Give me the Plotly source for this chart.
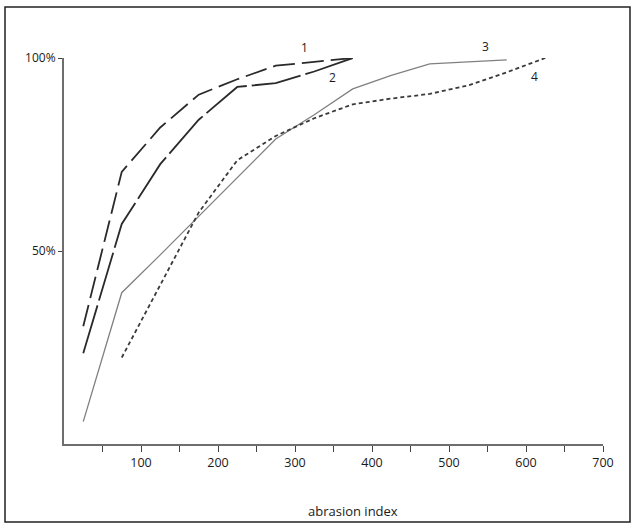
import plotly.graph_objects as go

# Data (abrasion index vs cumulative %)
curve1_x = [25, 75, 125, 175, 225, 275, 325, 375]
curve1_y = [30.5, 70.5, 82, 90.5, 94.5, 98, 99, 100]

curve2_x = [25, 75, 125, 175, 225, 275, 325, 375]
curve2_y = [23.5, 57, 72.5, 84, 92.5, 93.5, 96.5, 100]

curve3_x = [25, 75, 125, 175, 225, 275, 325, 375, 425, 475, 525, 575]
curve3_y = [5.8, 39.2, 49, 59, 69, 79, 85.3, 92, 95.5, 98.5, 99, 99.5]

curve4_x = [75, 125, 175, 225, 275, 325, 375, 425, 475, 525, 575, 625]
curve4_y = [22.4, 41.2, 60, 73.5, 79.8, 84.4, 88, 89.5, 90.7, 92.9, 96.3, 100]

curve_labels = ["1", "2", "3", "4"]
x_tick_vals = [50, 100, 150, 200, 250, 300, 350, 400, 450, 500, 550, 600, 650, 700]
x_tick_text = ["", "100", "", "200", "", "300", "", "400", "", "500", "", "600", "", "700"]
y_tick_vals = [50, 100]
y_tick_text = ["50%", "100%"]
x_title = "abrasion index"

FONT = "Open Sans, Liberation Sans, sans-serif"

# plot area geometry in pixels
L, R, T, B = 64, 603, 58, 444
PW, PH = R - L, B - T


def paper_y(py):
    return (B - py) / PH


fig = go.Figure()
fig.add_trace(go.Scatter(x=curve1_x, y=curve1_y, mode="lines",
                         line=dict(color="#2a2a2a", width=1.8, dash="22px,7px")))
fig.add_trace(go.Scatter(x=curve2_x, y=curve2_y, mode="lines",
                         line=dict(color="#2a2a2a", width=1.8, dash="50px,5px")))
fig.add_trace(go.Scatter(x=curve3_x, y=curve3_y, mode="lines",
                         line=dict(color="#808080", width=1.3)))
fig.add_trace(go.Scatter(x=curve4_x, y=curve4_y, mode="lines",
                         line=dict(color="#3a3a3a", width=1.8, dash="4px,3px")))

# curve labels (paper coordinates so labels above the 100% line still show)
label_pos = [(312, 102.8), (349, 95), (548, 103), (611, 95.2)]
for txt, (lx, ly) in zip(curve_labels, label_pos):
    fig.add_annotation(x=lx / 700, y=ly / 100, xref="paper", yref="paper", text=txt,
                       showarrow=False, xanchor="center", yanchor="middle",
                       font=dict(family=FONT, size=12, color="#1a1a1a"))

fig.add_annotation(x=(353 - L) / PW, y=paper_y(511), xref="paper", yref="paper",
                   text=x_title, showarrow=False, xanchor="center", yanchor="middle",
                   font=dict(family=FONT, size=13, color="#1a1a1a"))

# frame around the whole picture
fig.add_shape(type="rect", xref="paper", yref="paper",
              x0=(5 - L) / PW, x1=(630 - L) / PW,
              y0=paper_y(522), y1=paper_y(7),
              line=dict(color="#222", width=1.5))

fig.update_layout(
    width=635, height=528,
    margin=dict(l=L, r=635 - R, t=T, b=528 - B),
    paper_bgcolor="white", plot_bgcolor="white",
    showlegend=False,
    font=dict(family=FONT, color="#1a1a1a"),
    xaxis=dict(range=[0, 700], showgrid=False, zeroline=False,
               showline=True, linecolor="#6e6e6e", linewidth=2,
               tickmode="array", tickvals=x_tick_vals, ticktext=x_tick_text,
               ticks="outside", ticklen=6, tickwidth=1.2, tickcolor="#444",
               tickfont=dict(family=FONT, size=12.5, color="#1a1a1a")),
    yaxis=dict(range=[0, 100], showgrid=False, zeroline=False,
               showline=True, linecolor="#6e6e6e", linewidth=2,
               tickmode="array", tickvals=y_tick_vals, ticktext=y_tick_text,
               ticks="outside", ticklen=4, tickwidth=1.2, tickcolor="#444",
               tickfont=dict(family=FONT, size=12, color="#1a1a1a")),
)

fig.write_html("out.html", config={"displayModeBar": False},
               post_script="document.body.style.margin='0px';document.body.style.overflow='hidden';")
